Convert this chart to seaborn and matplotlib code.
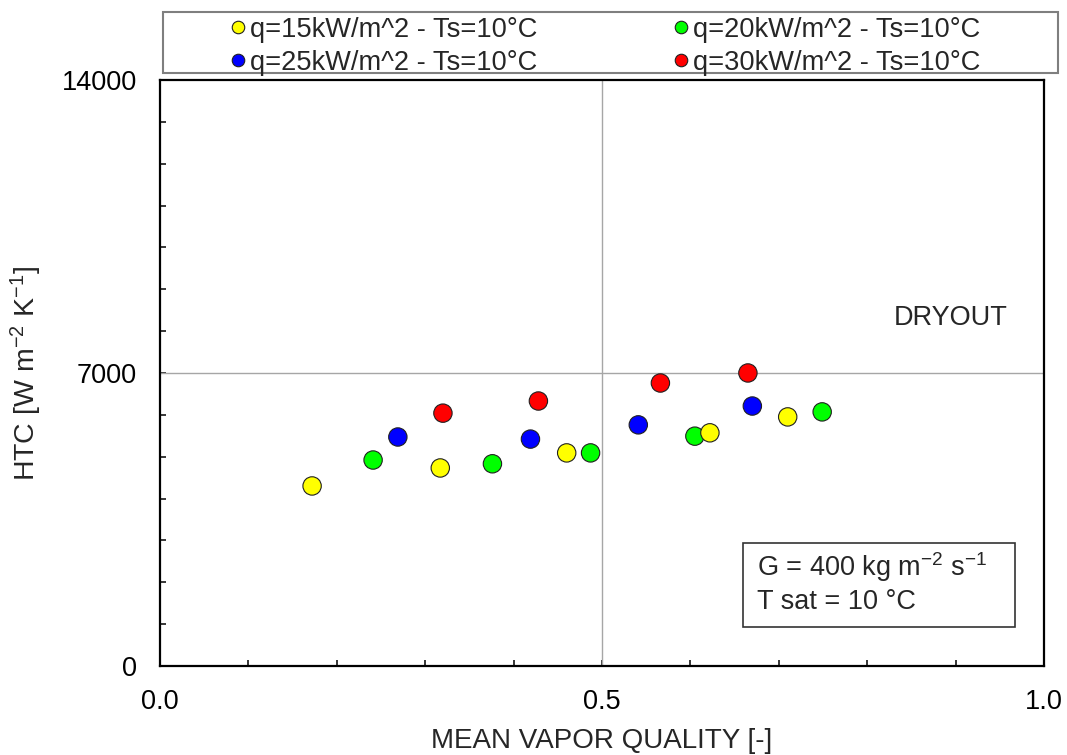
import matplotlib
matplotlib.use("Agg")
import numpy as np
import pandas as pd
import matplotlib.pyplot as plt
import seaborn as sns
from matplotlib.lines import Line2D
from matplotlib.patches import Rectangle
from matplotlib.ticker import MultipleLocator, FuncFormatter

# ---------------- data ----------------
series_labels = ["q=15kW/m^2 - Ts=10°C", "q=20kW/m^2 - Ts=10°C",
                 "q=25kW/m^2 - Ts=10°C", "q=30kW/m^2 - Ts=10°C"]
series_colors = ["#FFFF00", "#00FF00", "#0000FF", "#FF0000"]

x_q15 = [0.172, 0.317, 0.460, 0.622, 0.710]
y_q15 = [4300, 4730, 5090, 5570, 5950]
x_q20 = [0.241, 0.376, 0.487, 0.605, 0.749]
y_q20 = [4920, 4830, 5090, 5490, 6070]
x_q25 = [0.269, 0.419, 0.541, 0.670]
y_q25 = [5470, 5420, 5760, 6210]
x_q30 = [0.320, 0.428, 0.566, 0.665]
y_q30 = [6040, 6330, 6760, 7000]

x_labeled_ticks = [0.0, 0.5, 1.0]
y_labeled_ticks = [0, 7000, 14000]
x_label = "MEAN VAPOR QUALITY [-]"
y_label = "HTC [W m$^{-2}$ K$^{-1}$]"
annot_lines = ["G = 400 kg m$^{-2}$ s$^{-1}$", "T sat = 10 °C"]
dryout_text = "DRYOUT"

# ---------------- build frame (reverse order so yellow is drawn on top) ----------------
xs = [x_q15, x_q20, x_q25, x_q30]
ys = [y_q15, y_q20, y_q25, y_q30]
frames = []
for lab, xv, yv in zip(series_labels, xs, ys):
    frames.append(pd.DataFrame({"x": xv, "htc": yv, "series": lab}))
df = pd.concat(frames[::-1], ignore_index=True)

sns.set_style("ticks")
plt.rcParams["font.family"] = ["Liberation Sans", "DejaVu Sans"]
plt.rcParams["mathtext.fontset"] = "custom"
plt.rcParams["mathtext.rm"] = "Liberation Sans"
plt.rcParams["mathtext.it"] = "Liberation Sans"
plt.rcParams["mathtext.default"] = "regular"

fig = plt.figure(figsize=(10.67, 7.55), dpi=100)
ax = fig.add_axes([0.15, 0.118, 0.8285, 0.776])

palette = dict(zip(series_labels, series_colors))
sns.scatterplot(data=df, x="x", y="htc", hue="series", hue_order=series_labels,
                palette=palette, s=175, edgecolor="#202020", linewidth=0.8,
                legend=False, ax=ax, zorder=3)

ax.set_xlim(x_labeled_ticks[0], x_labeled_ticks[-1])
ax.set_ylim(y_labeled_ticks[0], y_labeled_ticks[-1])

ax.axvline(x_labeled_ticks[1], color="#A6A6A6", lw=1.0, zorder=1)
ax.axhline(y_labeled_ticks[1], color="#A6A6A6", lw=1.0, zorder=1)

ax.xaxis.set_major_locator(MultipleLocator(0.1))
ax.yaxis.set_major_locator(MultipleLocator(1000))
ax.xaxis.set_major_formatter(FuncFormatter(
    lambda v, p: f"{v:.1f}" if any(abs(v - t) < 1e-6 for t in x_labeled_ticks) else ""))
ax.yaxis.set_major_formatter(FuncFormatter(
    lambda v, p: f"{v:.0f}" if any(abs(v - t) < 1e-3 for t in y_labeled_ticks) else ""))
ax.tick_params(axis="both", direction="in", length=4.5, width=1.1, labelsize=19.5,
               pad=16.5, color="black", labelcolor="black")

for sp in ax.spines.values():
    sp.set_linewidth(1.6)
    sp.set_color("black")

ax.set_xlabel(x_label, fontsize=20, labelpad=9.5)
ax.set_ylabel(y_label, fontsize=20.5, labelpad=13)

# DRYOUT label
ax.text(0.894, 8310, dryout_text, fontsize=19.5, ha="center", va="center")

# annotation box
ax.add_patch(Rectangle((0.6595, 0.0666), 0.3075, 0.1434, transform=ax.transAxes,
                       fill=True, fc="white", ec="#333333", lw=1.2, zorder=4))
ax.text(0.675, 0.169, annot_lines[0], transform=ax.transAxes, fontsize=19.5,
        ha="left", va="center", zorder=5)
ax.text(0.675, 0.109, annot_lines[1], transform=ax.transAxes, fontsize=19.5,
        ha="left", va="center", zorder=5)

# legend (above the axes)
order = [0, 2, 1, 3]
handles = [Line2D([], [], marker="o", ls="none", markersize=9,
                  markerfacecolor=series_colors[i], markeredgecolor="#202020",
                  markeredgewidth=0.8) for i in order]
labels = [series_labels[i] for i in order]
fig.legend(handles, labels, ncol=2, loc="center", bbox_to_anchor=(0.5666, 0.9387),
           frameon=False, fontsize=19.6, handletextpad=0.1, handlelength=0.7,
           columnspacing=4.9, labelspacing=0.24, borderpad=0.1)
fig.patches.append(Rectangle((163 / 1067, 1 - 73 / 755), (1058 - 163) / 1067, 61 / 755,
                             transform=fig.transFigure, fill=False, ec="#7F7F7F", lw=1.5))

fig.savefig("out.png", dpi=100)
